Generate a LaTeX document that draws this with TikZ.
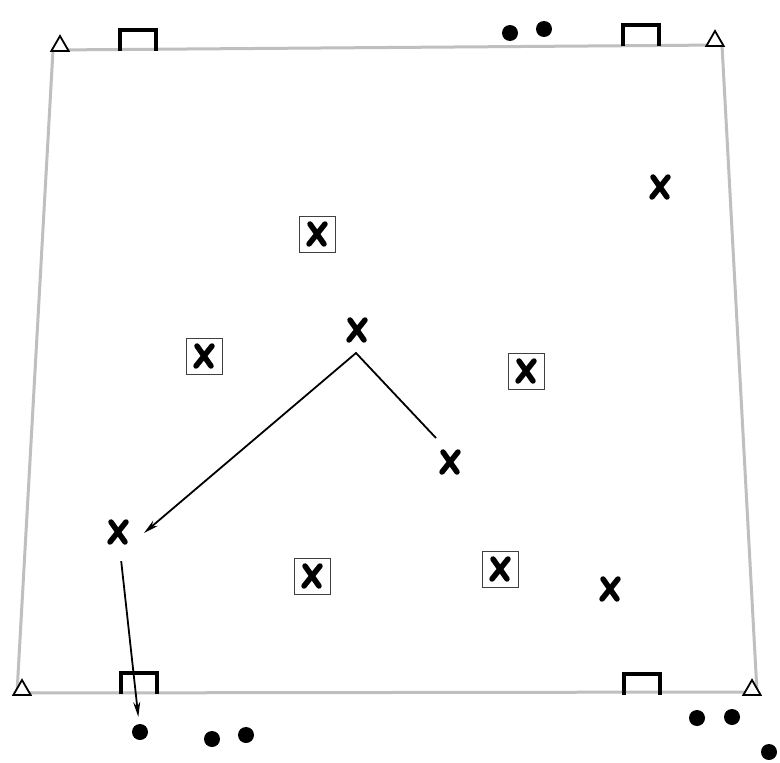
\documentclass[tikz,border=0pt]{standalone}
\usetikzlibrary{shapes.geometric,arrows.meta}
\begin{document}
\begin{tikzpicture}[x=1pt,y=-1pt,
  field/.style={draw=gray!50,line width=3pt,line join=round},
  goal/.style={draw=black,line width=4pt,line join=miter},
  cone/.style={regular polygon,regular polygon sides=3,draw=black,fill=white,line width=1.8pt,minimum size=20pt,inner sep=0pt},
  ball/.style={circle,fill=black,minimum size=16pt,inner sep=0pt},
  xmark/.style={rectangle,minimum size=30pt,inner sep=0pt,path picture={
    \draw[draw=black,line width=5.5pt,line cap=round] ([shift={(-7,-10)}]path picture bounding box.center) -- ([shift={(7,10)}]path picture bounding box.center);
    \draw[draw=black,line width=5.5pt,line cap=round] ([shift={(8,-10)}]path picture bounding box.center) -- ([shift={(-8,10)}]path picture bounding box.center);}},
  boxed/.style={xmark,draw=black!75,line width=1pt,minimum size=36pt},
  pass/.style={draw=black,line width=1.8pt,line join=miter,-{Stealth[length=15pt,width=7pt]}}
]
\useasboundingbox (0,0) rectangle (780,763);
\fill[white] (0,0) rectangle (780,763);

% field
\draw[field] (53,50) -- (722,45) -- (757,692) -- (17,693) -- cycle;

% goals
\draw[goal] (120,51) -- (120,30) -- (156,30) -- (156,51);
\draw[goal] (623,46) -- (623,25) -- (659,25) -- (659,46);
\draw[goal] (121,694) -- (121,673) -- (157,673) -- (157,694);
\draw[goal] (624,695) -- (624,674) -- (660,674) -- (660,695);

% cones
\node[cone] (c1) at (60,46) {};
\node[cone] (c2) at (715,41) {};
\node[cone] (c3) at (22,690) {};
\node[cone] (c4) at (752,690) {};

% balls
\node[ball] (ba1) at (510,33) {};
\node[ball] (ba2) at (544,29) {};
\node[ball] (ba3) at (140,732) {};
\node[ball] (ba4) at (212,739) {};
\node[ball] (ba5) at (246,735) {};
\node[ball] (ba6) at (697,718) {};
\node[ball] (ba7) at (732,717) {};
\node[ball] (ba8) at (769,752) {};

% boxed players
\node[boxed] (q1) at (317,234) {};
\node[boxed] (q2) at (204,356) {};
\node[boxed] (q3) at (526,371) {};
\node[boxed] (q4) at (312,576) {};
\node[boxed] (q5) at (500,569) {};

% players
\node[xmark] (p1) at (357,330) {};
\node[xmark] (p2) at (450,462) {};
\node[xmark] (p3) at (118,532) {};
\node[xmark] (p4) at (610,589) {};
\node[xmark] (p5) at (660,187) {};

% passes
\coordinate (pstart) at (436,438);
\coordinate (apex) at (356,353);
\coordinate (tip) at (144,533);
\draw[pass] (pstart) -- (apex) -- (tip);
\draw[pass,shorten <=14pt,shorten >=7pt] (p3) -- (ba3);
\end{tikzpicture}
\end{document}
